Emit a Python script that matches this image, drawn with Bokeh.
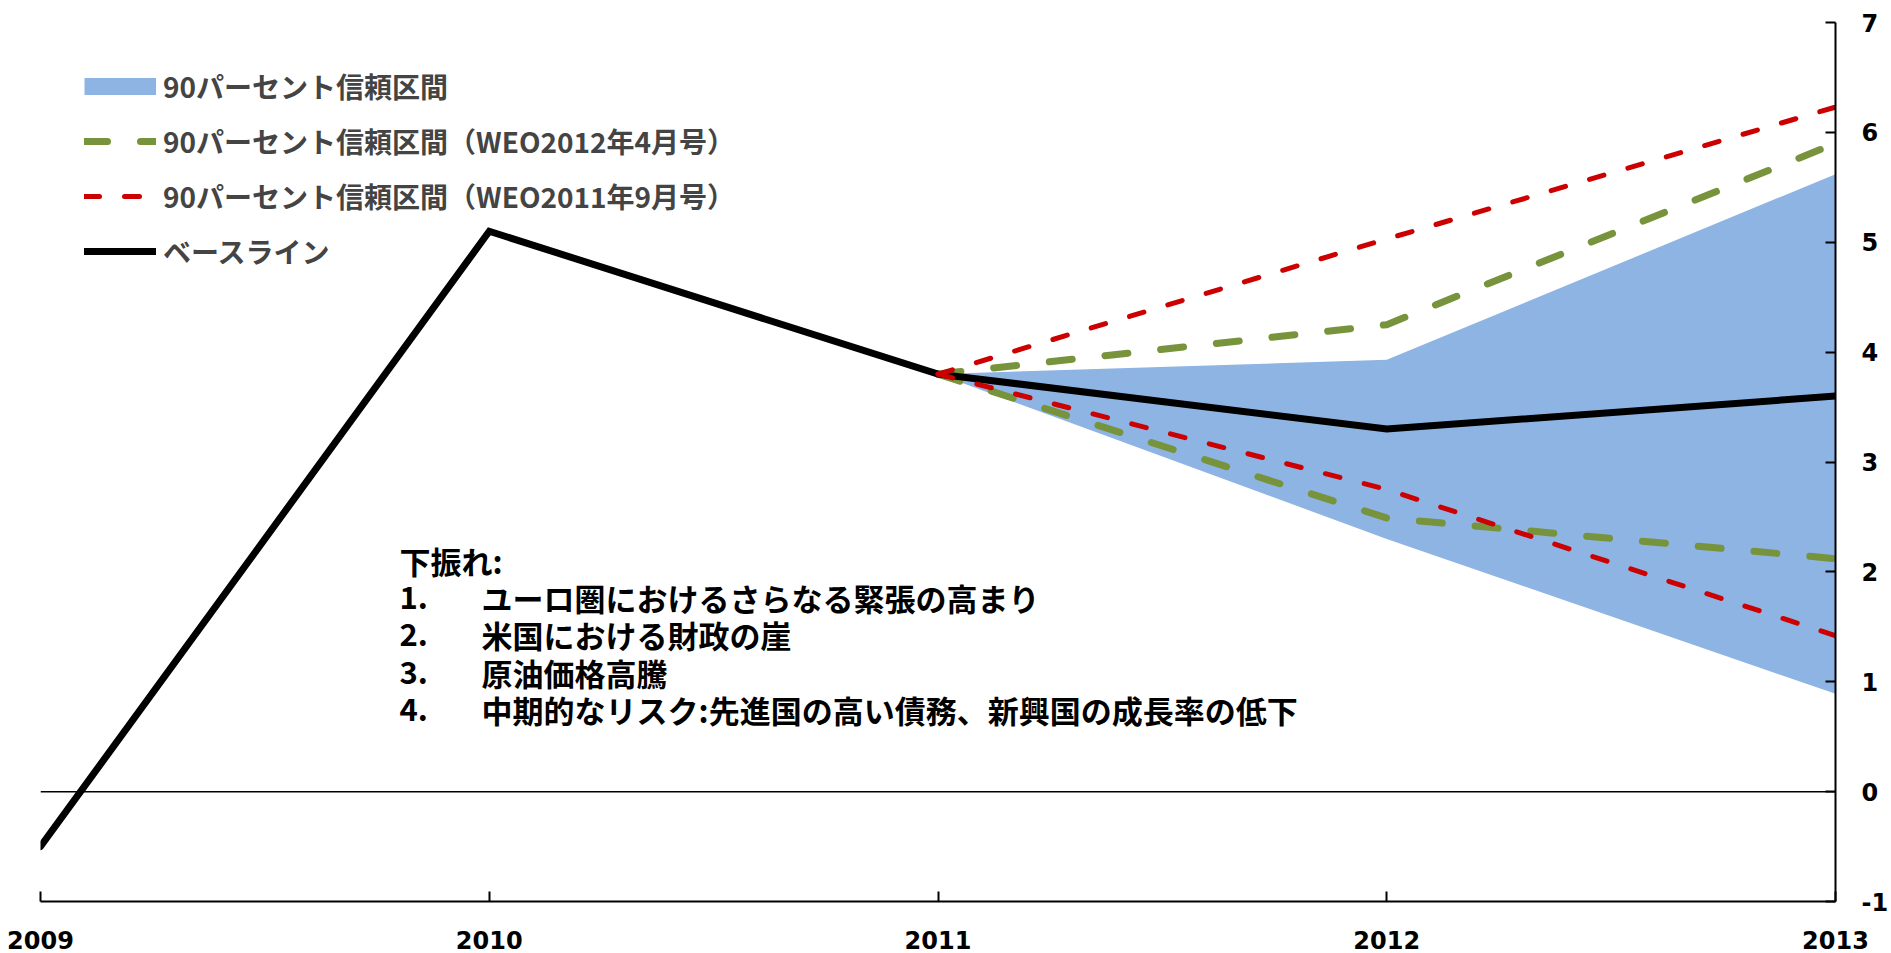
from bokeh.plotting import figure
from bokeh.models import LinearAxis, Span, Label, Legend, LegendItem, FixedTicker
from bokeh.embed import file_html
from bokeh.resources import INLINE

# ---- data ----
years = [2009, 2010, 2011, 2012, 2013]
baseline = [-0.5, 5.1, 3.8, 3.3, 3.6]
band_years = [2011, 2012, 2013]
band_lower = [3.8, 2.3, 0.89]
band_upper = [3.8, 3.93, 5.62]
apr2012_lower = [3.8, 2.49, 2.12]
apr2012_upper = [3.8, 4.25, 5.9]
sep2011_lower = [3.8, 2.75, 1.42]
sep2011_upper = [3.8, 5.03, 6.23]
y_ticks = [-1, 0, 1, 2, 3, 4, 5, 6, 7]
y_tick_labels = ["-1", "0", "1", "2", "3", "4", "5", "6", "7"]
x_tick_labels = ["2009", "2010", "2011", "2012", "2013"]
legend_labels = [
    "90パーセント信頼区間",
    "90パーセント信頼区間（WEO2012年4月号）",
    "90パーセント信頼区間（WEO2011年9月号）",
    "ベースライン",
]
note_title = "下振れ:"
note_numbers = ["1.", "2.", "3.", "4."]
note_items = [
    "ユーロ圏におけるさらなる緊張の高まり",
    "米国における財政の崖",
    "原油価格高騰",
    "中期的なリスク:先進国の高い債務、新興国の成長率の低下",
]

# ---- style ----
BAND = "#8EB4E3"
GREEN = "#77933C"
RED = "#CC0000"
JP = "Noto Sans CJK JP"
NUM = "DejaVu Sans"

p = figure(width=1891, height=953, x_range=(2009, 2013), y_range=(-1, 7),
           x_axis_location=None, y_axis_location=None,
           output_backend="svg", toolbar_location=None,
           min_border_left=40, min_border_right=53,
           min_border_top=22, min_border_bottom=52)
p.outline_line_color = None
p.grid.visible = False
p.background_fill_color = "white"

xaxis = LinearAxis(ticker=FixedTicker(ticks=years),
                   major_label_overrides={y: s for y, s in zip(years, x_tick_labels)},
                   major_label_text_font=NUM, major_label_text_font_style="bold",
                   major_label_text_font_size="24px", major_label_text_color="black",
                   major_label_text_line_height=0.8,
                   major_label_standoff=29, major_tick_in=10, major_tick_out=0,
                   minor_tick_line_color=None, axis_line_width=2,
                   major_tick_line_width=2, axis_line_color="black",
                   major_tick_line_color="black")
p.add_layout(xaxis, "below")
yaxis = LinearAxis(ticker=FixedTicker(ticks=y_ticks),
                   major_label_overrides={v: s for v, s in zip(y_ticks, y_tick_labels)},
                   major_label_text_font=NUM, major_label_text_font_style="bold",
                   major_label_text_font_size="24px", major_label_text_color="black",
                   major_label_standoff=26, major_tick_in=10, major_tick_out=0,
                   minor_tick_line_color=None, axis_line_width=2,
                   major_tick_line_width=2, axis_line_color="black",
                   major_tick_line_color="black")
p.add_layout(yaxis, "right")

p.add_layout(Span(location=0, dimension="width", line_color="black", line_width=1.5))

p.varea(x=band_years, y1=band_lower, y2=band_upper, fill_color=BAND)

g1 = p.line(band_years, apr2012_upper, line_color=GREEN, line_width=7,
            line_dash="23 33", line_cap="round")
p.line(band_years, apr2012_lower, line_color=GREEN, line_width=7,
       line_dash="23 33", line_cap="round")
b = p.line(years, baseline, line_color="black", line_width=7, line_join="miter",
           line_cap="round")
r1 = p.line(band_years, sep2011_upper, line_color=RED, line_width=5,
            line_dash="15 25", line_cap="round")
p.line(band_years, sep2011_lower, line_color=RED, line_width=5,
       line_dash="15 25", line_cap="round")

band_proxy = p.line(x=[float("nan")], y=[float("nan")], line_color=BAND, line_width=17,
                    line_cap="butt")

legend = Legend(items=[
    LegendItem(label=legend_labels[0], renderers=[band_proxy]),
    LegendItem(label=legend_labels[1], renderers=[g1]),
    LegendItem(label=legend_labels[2], renderers=[r1]),
    LegendItem(label=legend_labels[3], renderers=[b]),
], location="top_left", glyph_width=72, glyph_height=40, label_height=36,
    spacing=15, padding=0, margin=44, label_standoff=7,
    border_line_color=None, background_fill_alpha=0,
    label_text_font=JP, label_text_font_style="bold", label_text_font_size="28px")
p.add_layout(legend)

# note block
NOTE_X = 2009.80
ITEM_X = 2009.983
NOTE_Y = 2.105
ROW = 37.3
FS = "31px"
p.add_layout(Label(x=NOTE_X, y=NOTE_Y, text=note_title, text_align="left",
                   text_baseline="middle", text_font=JP, text_font_style="bold",
                   text_font_size=FS, text_color="black"))
for i, (n, t) in enumerate(zip(note_numbers, note_items)):
    off = -(i + 1) * ROW
    p.add_layout(Label(x=NOTE_X, y=NOTE_Y, y_offset=off, text=n, text_align="left",
                       text_baseline="middle", text_font=JP, text_font_style="bold",
                       text_font_size=FS, text_color="black"))
    p.add_layout(Label(x=ITEM_X, y=NOTE_Y, y_offset=off, text=t, text_align="left",
                       text_baseline="middle", text_font=JP, text_font_style="bold",
                       text_font_size=FS, text_color="black"))

open("out.html", "w").write(file_html(p, INLINE))
